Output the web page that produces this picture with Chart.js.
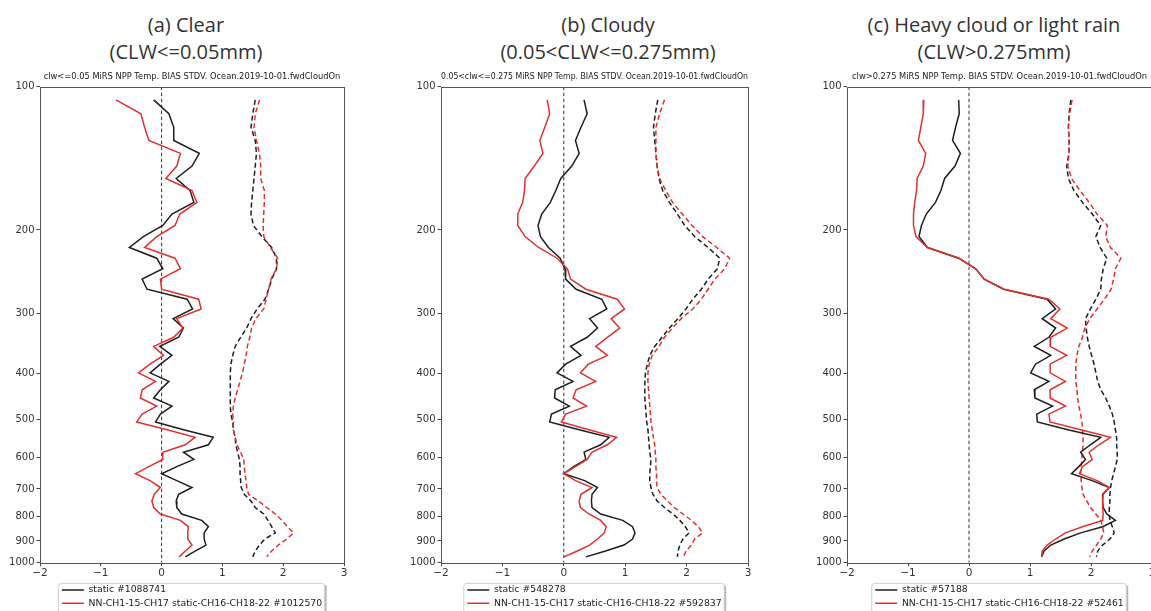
<!DOCTYPE html>
<html>
<head>
<meta charset="utf-8">
<title>MiRS NPP temperature bias / stdv profiles</title>
<script src="https://cdn.jsdelivr.net/npm/chart.js@4.4.1/dist/chart.umd.min.js"></script>
<style>
  html, body { margin: 0; padding: 0; background: #fff; width: 1151px; height: 611px; overflow: hidden; position: relative; }
  canvas { position: absolute; top: 0; }
  .head { position: absolute; top: 11px; width: 400px; text-align: center; font-family: 'Open Sans', sans-serif; font-size: 20px; line-height: 27px; color: #333; }
</style>
</head>
<body>
<div class="head" style="left:-14px">(a) Clear<br>(CLW&lt;=0.05mm)</div>
<div class="head" style="left:408px">(b) Cloudy<br>(0.05&lt;CLW&lt;=0.275mm)</div>
<div class="head" style="left:794px">(c) Heavy cloud or light rain<br>(CLW&gt;0.275mm)</div>
<canvas id="clear" width="352" height="618" style="left:0px"></canvas>
<canvas id="cloudy" width="355" height="618" style="left:401px"></canvas>
<canvas id="heavy" width="353" height="618" style="left:807px"></canvas>
<script>
// pressure (hPa) of each layer
const pressure = [106.6, 114.0, 121.7, 129.7, 138.1, 146.8, 155.9, 165.3, 175.0, 185.2, 195.7, 206.5, 217.7,
  229.3, 241.3, 253.7, 266.4, 279.6, 293.1, 307.1, 321.4, 336.1, 351.3, 366.8, 382.8, 399.2, 416.0, 433.2,
  450.8, 468.8, 487.3, 506.2, 525.5, 545.2, 565.3, 585.9, 606.9, 628.3, 650.2, 672.4, 695.1, 718.2, 741.8,
  765.7, 790.1, 814.9, 840.1, 865.7, 891.7, 918.2, 945.1, 972.3];

const xTicks = [-2, -1, 0, 1, 2, 3];
const yTicks = [100, 200, 300, 400, 500, 600, 700, 800, 900, 1000];
const zeroX = [0, 0];
const zeroP = [100, 1000];

// (a) clear
const clearBiasStatic = [-0.13, 0.12, 0.20, 0.20, 0.62, 0.50, 0.24, 0.47, 0.53, 0.17, 0.02, -0.30, -0.53,
  -0.08, 0.02, -0.32, -0.24, 0.42, 0.51, 0.19, 0.36, 0.28, -0.03, 0.17, -0.02, -0.19, 0.12, -0.02, -0.13,
  0.17, -0.02, -0.10, 0.36, 0.85, 0.77, 0.36, 0.53, 0.25, 0.00, 0.25, 0.50, 0.28, 0.24, 0.25, 0.33, 0.66,
  0.77, 0.70, 0.70, 0.73, 0.55, 0.39];
const clearBiasNN = [-0.75, -0.34, -0.28, -0.21, 0.31, 0.25, 0.07, 0.50, 0.58, 0.30, 0.22, -0.08, -0.28,
  0.22, 0.31, -0.02, 0.00, 0.61, 0.65, 0.25, 0.35, 0.20, -0.13, 0.03, -0.19, -0.38, -0.10, -0.32, -0.35,
  -0.08, -0.32, -0.41, 0.09, 0.55, 0.39, 0.02, 0.02, -0.21, -0.43, -0.19, -0.02, -0.12, -0.16, -0.13, -0.02,
  0.31, 0.44, 0.43, 0.43, 0.50, 0.39, 0.29];
const clearStdStatic = [1.54, 1.50, 1.47, 1.54, 1.56, 1.54, 1.52, 1.50, 1.48, 1.47, 1.51, 1.65, 1.81, 1.89,
  1.89, 1.81, 1.76, 1.70, 1.57, 1.47, 1.40, 1.30, 1.21, 1.17, 1.14, 1.13, 1.13, 1.13, 1.13, 1.13, 1.14, 1.17,
  1.18, 1.21, 1.22, 1.25, 1.28, 1.29, 1.29, 1.30, 1.31, 1.36, 1.47, 1.54, 1.68, 1.75, 1.81, 1.87, 1.70, 1.61,
  1.54, 1.50];
const clearStdNN = [1.61, 1.54, 1.52, 1.56, 1.61, 1.63, 1.63, 1.69, 1.69, 1.68, 1.67, 1.68, 1.79, 1.91, 1.89,
  1.80, 1.76, 1.72, 1.68, 1.55, 1.48, 1.45, 1.41, 1.39, 1.36, 1.33, 1.29, 1.25, 1.21, 1.18, 1.17, 1.18, 1.18,
  1.21, 1.24, 1.30, 1.35, 1.36, 1.37, 1.39, 1.40, 1.43, 1.59, 1.73, 1.87, 1.98, 2.07, 2.17, 2.06, 1.92, 1.81,
  1.73];

// (b) cloudy
const cloudyBiasStatic = [0.33, 0.38, 0.28, 0.19, 0.25, 0.13, -0.05, -0.13, -0.22, -0.36, -0.42, -0.38, -0.25,
  -0.06, 0.02, 0.03, 0.20, 0.62, 0.70, 0.42, 0.55, 0.38, 0.11, 0.28, 0.03, -0.11, 0.15, -0.14, -0.15, 0.09,
  -0.20, -0.23, 0.25, 0.74, 0.60, 0.33, 0.36, 0.16, 0.00, 0.34, 0.55, 0.46, 0.45, 0.46, 0.60, 0.96, 1.12,
  1.16, 1.12, 0.98, 0.68, 0.36];
const cloudyBiasNN = [-0.27, -0.23, -0.31, -0.39, -0.34, -0.48, -0.63, -0.64, -0.67, -0.75, -0.75, -0.63, -0.41,
  -0.11, 0.06, 0.11, 0.36, 0.87, 0.99, 0.77, 0.91, 0.71, 0.52, 0.71, 0.40, 0.27, 0.52, 0.20, 0.15, 0.37, 0.03,
  -0.04, 0.41, 0.86, 0.71, 0.46, 0.38, 0.19, 0.00, 0.19, 0.46, 0.28, 0.25, 0.27, 0.41, 0.60, 0.69, 0.66, 0.55,
  0.42, 0.22, 0.00];
const cloudyStdStatic = [1.53, 1.49, 1.46, 1.48, 1.50, 1.52, 1.55, 1.61, 1.72, 1.85, 1.97, 2.13, 2.35, 2.54,
  2.50, 2.35, 2.24, 2.10, 1.99, 1.86, 1.72, 1.60, 1.48, 1.40, 1.36, 1.33, 1.32, 1.32, 1.32, 1.33, 1.34, 1.35,
  1.37, 1.38, 1.39, 1.40, 1.42, 1.41, 1.40, 1.40, 1.42, 1.45, 1.52, 1.64, 1.78, 1.89, 1.98, 2.04, 1.94, 1.89,
  1.86, 1.85];
const cloudyStdNN = [1.64, 1.56, 1.50, 1.50, 1.50, 1.52, 1.56, 1.66, 1.77, 1.93, 2.09, 2.26, 2.49, 2.70, 2.62,
  2.46, 2.35, 2.24, 2.10, 1.91, 1.77, 1.64, 1.55, 1.44, 1.39, 1.37, 1.37, 1.38, 1.39, 1.40, 1.41, 1.42, 1.44,
  1.46, 1.48, 1.49, 1.50, 1.50, 1.51, 1.51, 1.52, 1.58, 1.69, 1.80, 1.94, 2.08, 2.19, 2.26, 2.13, 2.08, 1.99,
  1.95];

// (c) heavy cloud or light rain
const heavyBiasStatic = [-0.17, -0.16, -0.22, -0.27, -0.14, -0.23, -0.40, -0.46, -0.55, -0.70, -0.78, -0.82,
  -0.68, -0.17, 0.11, 0.25, 0.57, 1.28, 1.42, 1.20, 1.42, 1.31, 1.07, 1.34, 1.09, 1.01, 1.31, 1.07, 1.08, 1.37,
  1.11, 1.12, 1.62, 2.16, 1.99, 1.83, 1.91, 1.80, 1.68, 2.02, 2.30, 2.19, 2.19, 2.20, 2.26, 2.40, 2.19, 1.83,
  1.56, 1.34, 1.23, 1.19];
const heavyBiasNN = [-0.74, -0.75, -0.79, -0.83, -0.71, -0.75, -0.85, -0.86, -0.89, -0.91, -0.91, -0.87, -0.68,
  -0.16, 0.11, 0.25, 0.57, 1.31, 1.49, 1.34, 1.61, 1.34, 1.33, 1.60, 1.33, 1.33, 1.58, 1.33, 1.33, 1.58, 1.31,
  1.33, 1.83, 2.32, 2.13, 1.97, 2.02, 1.86, 1.81, 2.10, 2.30, 2.20, 2.19, 2.19, 2.20, 2.19, 1.86, 1.58, 1.42,
  1.28, 1.20, 1.19];
const heavyStdStatic = [1.67, 1.64, 1.63, 1.64, 1.64, 1.60, 1.63, 1.72, 1.86, 2.02, 2.16, 2.08, 2.15, 2.26,
  2.20, 2.17, 2.16, 2.08, 1.99, 1.91, 1.92, 1.94, 1.97, 2.01, 2.05, 2.08, 2.11, 2.16, 2.24, 2.30, 2.35, 2.38,
  2.40, 2.42, 2.42, 2.43, 2.43, 2.40, 2.37, 2.34, 2.32, 2.31, 2.31, 2.30, 2.30, 2.31, 2.35, 2.38, 2.31, 2.19,
  2.11, 2.09];
const heavyStdNN = [1.69, 1.65, 1.63, 1.64, 1.64, 1.62, 1.68, 1.82, 1.97, 2.10, 2.27, 2.24, 2.32, 2.49, 2.40,
  2.37, 2.33, 2.22, 2.10, 1.98, 1.90, 1.86, 1.80, 1.77, 1.75, 1.75, 1.75, 1.77, 1.78, 1.80, 1.83, 1.85, 1.86,
  1.87, 1.87, 1.86, 1.85, 1.84, 1.83, 1.84, 1.85, 1.87, 1.93, 1.99, 2.08, 2.16, 2.19, 2.21, 2.16, 2.09, 2.02,
  1.98];

const BLACK = '#1e1e1e';
const RED = '#e3302f';
Chart.defaults.font.family = 'DejaVu Sans';
Chart.defaults.color = '#333';

const profile = vals => pressure.map((p, i) => ({ x: vals[i], y: p }));

// box round the plot area, like the matplotlib spines
const framePlugin = {
  id: 'frame',
  afterDatasetsDraw(chart) {
    const { ctx, chartArea: a } = chart;
    ctx.save();
    ctx.strokeStyle = '#555';
    ctx.lineWidth = 1;
    ctx.strokeRect(Math.round(a.left) + 0.5, Math.round(a.top) + 0.5, Math.round(a.right - a.left), Math.round(a.bottom - a.top));
    ctx.restore();
  }
};

// centre the left-aligned legend rows under the axes and draw the framed box behind them
const legendBoxPlugin = {
  id: 'legendBox',
  afterLayout(chart) {
    const lg = chart.legend, a = chart.chartArea;
    const pad = lg.options.labels.padding;
    const w = Math.max(...lg.lineWidths) - pad;
    const start = (a.left + a.right) / 2 - w / 2;
    lg.left = start - pad;
    lg.right = lg.left + lg.width;
    chart.$box = { x: start - 4, w: w + 6 };
  },
  beforeDraw(chart) {
    const b = chart.$box, lg = chart.legend, ctx = chart.ctx;
    if (!b) return;
    const top = lg.top + 1.5;
    ctx.save();
    ctx.fillStyle = '#b8b8b8';
    ctx.fillRect(b.x + 2.5, top + 2.5, b.w, 60);
    ctx.fillStyle = '#fff';
    ctx.strokeStyle = '#cfcfcf';
    ctx.lineWidth = 1;
    ctx.beginPath();
    ctx.roundRect(b.x + 0.5, top + 0.5, b.w, 60, 3);
    ctx.fill();
    ctx.stroke();
    ctx.restore();
  }
};

function makePanel(id, subtitle, labels, biasStatic, biasNN, stdStatic, stdNN) {
  return new Chart(document.getElementById(id), {
    type: 'scatter',
    data: {
      datasets: [
        { label: 'zero', data: zeroX.map((x, i) => ({ x: x, y: zeroP[i] })), borderColor: '#333', borderWidth: 1, borderDash: [3.5, 2.5], order: 5 },
        { label: labels[0], data: profile(biasStatic), borderColor: BLACK, borderWidth: 1.5, order: 2 },
        { label: labels[1], data: profile(biasNN), borderColor: RED, borderWidth: 1.5, order: 1 },
        { label: 'stdv static', data: profile(stdStatic), borderColor: BLACK, borderWidth: 1.5, borderDash: [5, 3], order: 4 },
        { label: 'stdv NN', data: profile(stdNN), borderColor: RED, borderWidth: 1.5, borderDash: [5, 3], order: 3 }
      ]
    },
    options: {
      responsive: false,
      animation: false,
      events: [],
      layout: { padding: { top: 66, right: 8, left: 0, bottom: 0 } },
      datasets: { scatter: { showLine: true, pointRadius: 0, fill: false, tension: 0 } },
      scales: {
        x: {
          type: 'linear', min: -2, max: 3,
          afterBuildTicks: s => { s.ticks = xTicks.map(v => ({ value: v })); },
          afterFit: s => { s.height = 18.7; },
          border: { display: false },
          grid: { drawOnChartArea: false, drawTicks: true, tickLength: 3.5, color: '#444' },
          ticks: { padding: 1, color: '#333', font: { size: 10.5 }, callback: v => (v < 0 ? '\u2212' + Math.abs(v) : String(v)) }
        },
        y: {
          type: 'logarithmic', min: 100, max: 1000, reverse: true,
          afterBuildTicks: s => { s.ticks = yTicks.map(v => ({ value: v })); },
          afterFit: s => { s.width = 40; },
          border: { display: false },
          grid: { drawOnChartArea: false, drawTicks: true, tickLength: 3.5, color: '#444' },
          ticks: { padding: 2, autoSkip: false, color: '#333', font: { size: 10 }, callback: v => String(v) }
        }
      },
      plugins: {
        title: { display: false },
        subtitle: {
          display: true, text: subtitle, fullSize: false, color: '#222',
          font: { size: 8.3, weight: 'normal' }, padding: { top: 5.6, bottom: 5.1 }
        },
        legend: {
          position: 'bottom', align: 'start', fullSize: false,
          labels: {
            usePointStyle: true, pointStyle: 'line', pointStyleWidth: 22, padding: 4, color: '#222',
            font: { size: 9.3 },
            filter: item => item.datasetIndex === 1 || item.datasetIndex === 2,
            sort: (a, b) => a.datasetIndex - b.datasetIndex
          }
        },
        tooltip: { enabled: false }
      }
    },
    plugins: [framePlugin, legendBoxPlugin]
  });
}

const nnLabel = 'NN-CH1-15-CH17 static-CH16-CH18-22 ';
makePanel('clear', 'clw<=0.05 MiRS NPP Temp. BIAS STDV. Ocean.2019-10-01.fwdCloudOn',
  ['static #1088741', nnLabel + '#1012570'], clearBiasStatic, clearBiasNN, clearStdStatic, clearStdNN);
makePanel('cloudy', '0.05<clw<=0.275 MiRS NPP Temp. BIAS STDV. Ocean.2019-10-01.fwdCloudOn',
  ['static #548278', nnLabel + '#592837'], cloudyBiasStatic, cloudyBiasNN, cloudyStdStatic, cloudyStdNN);
makePanel('heavy', 'clw>0.275 MiRS NPP Temp. BIAS STDV. Ocean.2019-10-01.fwdCloudOn',
  ['static #57188', nnLabel + '#52461'], heavyBiasStatic, heavyBiasNN, heavyStdStatic, heavyStdNN);
</script>
</body>
</html>
